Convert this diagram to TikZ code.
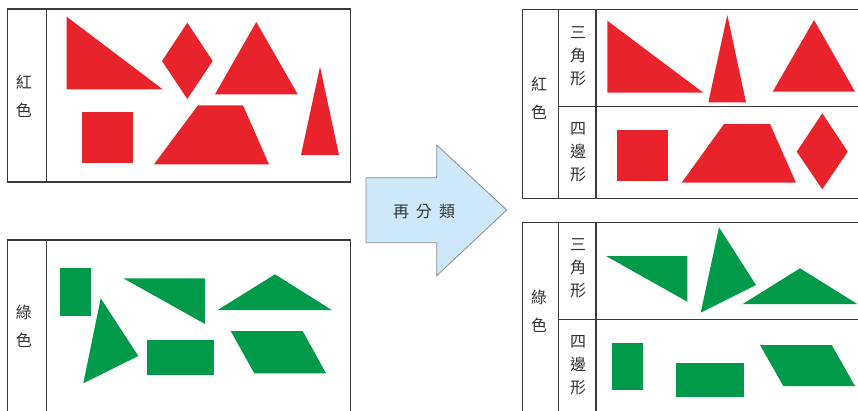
\documentclass[tikz,border=0pt]{standalone}
\usepackage{fontspec}
\newfontfamily\cjk{Noto Sans CJK TC}
\definecolor{shapered}{HTML}{E8232B}
\definecolor{shapegreen}{HTML}{009A4A}
\definecolor{framegray}{HTML}{3A3A3A}
\definecolor{arrowblue}{HTML}{CDE8F8}

\begin{document}
\begin{tikzpicture}[x=1pt,y=-1pt,
    frame/.style={draw=framegray, line width=1.3pt},
    redshape/.style={fill=shapered},
    greenshape/.style={fill=shapegreen},
    colorlbl/.style={font=\cjk\fontsize{16}{28}\selectfont, align=center, text=black!80},
    kindlbl/.style={font=\cjk\fontsize{16}{23}\selectfont, align=center, text=black!80}]
  \useasboundingbox (0,0) rectangle (858,410);

  % left: sorted by colour only
  \draw[frame] (7.5,9) rectangle (350.5,182);
  \draw[frame] (46.7,9) -- (46.7,182);
  \node[colorlbl] (red-a) at (24,96) {紅\\色};
  \fill[redshape] (66.7,16.7) -- (66.7,89.3) -- (162.7,89.3) -- cycle;
  \fill[redshape] (187.3,22.7) -- (212.7,61) -- (187.3,99) -- (162,61) -- cycle;
  \fill[redshape] (256.3,22) -- (297.7,94.3) -- (215,94.3) -- cycle;
  \fill[redshape] (320,66.7) -- (339,155) -- (301,155) -- cycle;
  \fill[redshape] (81.7,111.7) rectangle (133.3,163.3);
  \fill[redshape] (198,105.3) -- (243,105.3) -- (269,164.3) -- (154,164.3) -- cycle;

  \draw[frame] (7.5,420) -- (7.5,240) -- (350.5,240) -- (350.5,420);
  \draw[frame] (46.7,240) -- (46.7,420);
  \node[colorlbl] (green-a) at (24,326) {綠\\色};
  \fill[greenshape] (60,268.3) rectangle (90.7,315.7);
  \fill[greenshape] (123.3,278.3) -- (205,278.3) -- (205,324) -- cycle;
  \fill[greenshape] (100.7,298.3) -- (138.3,356) -- (83.3,383.3) -- cycle;
  \fill[greenshape] (275,274.3) -- (331.7,310) -- (217.7,310) -- cycle;
  \fill[greenshape] (146.7,340) rectangle (214.3,375);
  \fill[greenshape] (230.7,331) -- (302.7,331) -- (326,373.3) -- (254.3,373.3) -- cycle;

  % arrow
  \draw[draw=black!45, fill=arrowblue, line width=0.8pt]
    (366,177.7) -- (436.7,177.7) -- (436.7,145) -- (506.7,210)
    -- (436.7,275.7) -- (436.7,242.7) -- (366,242.7) -- cycle;
  \node[font=\cjk\fontsize{16}{20}\selectfont, text=black!80] (resort) at (424,211)
    {再\hspace{7pt}分\hspace{7pt}類};

  % right: sorted by colour, then by kind
  \draw[frame] (866,9.3) -- (522.7,9.3) -- (522.7,198.3) -- (866,198.3);
  \draw[frame] (558.3,9.3) -- (558.3,198.3);
  \draw[frame] (596,9.3) -- (596,198.3);
  \draw[frame] (558.3,106.7) -- (866,106.7);
  \node[colorlbl] (red-b) at (539,98) {紅\\色};
  \node[kindlbl] (red-tri) at (578,56) {三\\角\\形};
  \node[kindlbl] (red-quad) at (578,152) {四\\邊\\形};
  \fill[redshape] (607.3,20.7) -- (607.3,92.7) -- (703.3,92.7) -- cycle;
  \fill[redshape] (727.3,15) -- (746,102.3) -- (708.3,102.3) -- cycle;
  \fill[redshape] (814,20) -- (855,91.7) -- (772.7,91.7) -- cycle;
  \fill[redshape] (616.7,130) rectangle (668.3,181);
  \fill[redshape] (724,124) -- (770,124) -- (796,182.7) -- (681.7,182.7) -- cycle;
  \fill[redshape] (822.3,113.3) -- (847.7,151.7) -- (822.3,189.3) -- (796.7,151.7) -- cycle;

  \draw[frame] (866,222.7) -- (522.7,222.7) -- (522.7,420);
  \draw[frame] (558.3,222.7) -- (558.3,420);
  \draw[frame] (596,222.7) -- (596,420);
  \draw[frame] (558.3,319.3) -- (866,319.3);
  \node[colorlbl] (green-b) at (539,311) {綠\\色};
  \node[kindlbl] (green-tri) at (578,268) {三\\角\\形};
  \node[kindlbl] (green-quad) at (578,365) {四\\邊\\形};
  \fill[greenshape] (606,256) -- (687.3,256) -- (687.3,301.7) -- cycle;
  \fill[greenshape] (719,227.3) -- (756,285) -- (700.7,312.7) -- cycle;
  \fill[greenshape] (800,268.3) -- (857.3,304) -- (742.7,304) -- cycle;
  \fill[greenshape] (611.7,342.7) rectangle (642.7,390);
  \fill[greenshape] (676,362.7) rectangle (744,397.3);
  \fill[greenshape] (760,345) -- (831.7,345) -- (855,386) -- (783.3,386) -- cycle;
\end{tikzpicture}
\end{document}
